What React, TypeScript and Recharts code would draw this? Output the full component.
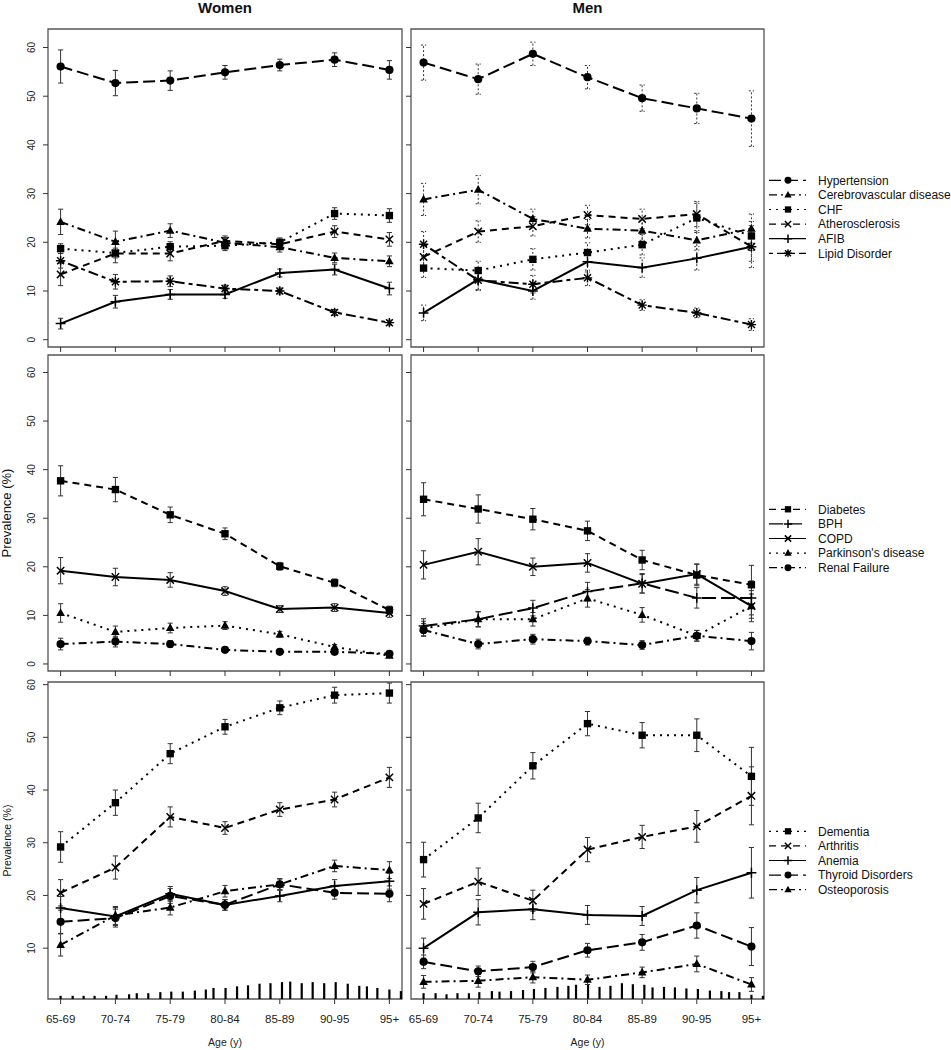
import React from "react";
import {
  ComposedChart,
  Line,
  Scatter,
  XAxis,
  YAxis,
  ErrorBar,
  Legend,
  ReferenceArea,
} from "recharts";

const ageGroups = ["65-69", "70-74", "75-79", "80-84", "85-89", "90-95", "95+"];

// cardiovascular - women
const wHypertension = [56.1, 52.7, 53.2, 54.9, 56.4, 57.5, 55.4];
const wHypertensionCI = [3.4, 2.6, 2.0, 1.4, 1.2, 1.4, 1.9];
const wCerebro = [24.2, 20.1, 22.4, 19.9, 19.0, 16.8, 16.1];
const wCerebroCI = [2.6, 2.2, 1.4, 1.1, 1.0, 1.0, 1.1];
const wCHF = [18.7, 17.8, 19.1, 19.3, 20.0, 25.9, 25.5];
const wCHFCI = [1.0, 1.0, 1.0, 1.0, 0.9, 1.2, 1.4];
const wAthero = [13.4, 17.7, 17.7, 20.3, 19.6, 22.2, 20.6];
const wAtheroCI = [2.3, 1.9, 1.5, 1.0, 0.9, 1.2, 1.4];
const wAFIB = [3.3, 7.8, 9.3, 9.3, 13.7, 14.4, 10.5];
const wAFIBCI = [1.1, 1.3, 1.0, 0.8, 0.8, 1.1, 1.3];
const wLipid = [16.2, 11.9, 12.0, 10.5, 10.0, 5.6, 3.5];
const wLipidCI = [1.5, 1.5, 1.1, 0.7, 0.6, 0.6, 0.5];

// cardiovascular - men
const mHypertension = [56.9, 53.5, 58.7, 53.9, 49.6, 47.5, 45.4];
const mHypertensionCI = [3.6, 3.1, 2.4, 2.4, 2.7, 3.1, 5.7];
const mCerebro = [28.8, 30.8, 24.8, 22.8, 22.4, 20.4, 22.8];
const mCerebroCI = [3.3, 2.9, 2.0, 1.9, 2.0, 2.0, 3.0];
const mCHF = [14.7, 14.2, 16.5, 17.9, 19.5, 25.0, 21.3];
const mCHFCI = [1.9, 1.9, 2.2, 2.0, 2.1, 3.0, 3.0];
const mAthero = [17.0, 22.2, 23.3, 25.6, 24.8, 25.8, 19.1];
const mAtheroCI = [2.3, 2.2, 2.0, 2.0, 2.0, 2.6, 3.0];
const mAFIB = [5.5, 12.4, 10.0, 16.0, 14.8, 16.7, 19.1];
const mAFIBCI = [1.6, 2.1, 1.7, 2.1, 2.0, 2.4, 4.3];
const mLipid = [19.6, 12.2, 11.4, 12.7, 7.1, 5.5, 3.1];
const mLipidCI = [2.6, 2.1, 1.8, 1.6, 1.1, 1.0, 1.2];

// other chronic - women
const wDiabetes = [37.7, 35.9, 30.7, 26.8, 20.1, 16.7, 11.1];
const wDiabetesCI = [3.1, 2.5, 1.6, 1.2, 0.8, 0.8, 0.8];
const wCOPD = [19.2, 17.9, 17.3, 15.0, 11.3, 11.6, 10.5];
const wCOPDCI = [2.7, 1.8, 1.5, 0.9, 0.7, 0.8, 0.9];
const wParkinson = [10.5, 6.6, 7.4, 7.9, 6.1, 3.5, 1.7];
const wParkinsonCI = [1.9, 1.2, 1.0, 0.8, 0.6, 0.5, 0.4];
const wRenal = [4.1, 4.6, 4.1, 2.9, 2.5, 2.5, 2.1];
const wRenalCI = [1.2, 1.1, 0.7, 0.5, 0.4, 0.4, 0.4];

// other chronic - men
const mDiabetes = [33.9, 31.9, 29.8, 27.4, 21.4, 18.3, 16.3];
const mDiabetesCI = [3.4, 2.9, 2.2, 2.0, 2.0, 2.2, 4.0];
const mBPH = [7.8, 9.2, 11.5, 14.9, 16.6, 13.6, 13.6];
const mBPHCI = [1.5, 1.6, 1.6, 1.9, 2.0, 2.1, 3.5];
const mCOPD = [20.4, 23.1, 20.0, 20.8, 16.5, 18.5, 11.9];
const mCOPDCI = [2.9, 2.7, 1.8, 1.9, 1.9, 2.1, 3.2];
const mParkinson = [7.3, 9.2, 9.2, 13.5, 10.1, 5.8, 11.9];
const mParkinsonCI = [1.5, 1.5, 1.4, 1.8, 1.5, 1.1, 2.5];
const mRenal = [7.0, 4.1, 5.1, 4.7, 3.9, 5.8, 4.7];
const mRenalCI = [1.3, 1.0, 1.0, 0.8, 0.9, 1.1, 1.8];

// dementia & co - women
const wDementia = [29.2, 37.6, 46.9, 52.0, 55.6, 58.0, 58.4];
const wDementiaCI = [2.9, 2.4, 1.9, 1.4, 1.3, 1.5, 1.9];
const wArthritis = [20.5, 25.3, 34.9, 32.8, 36.3, 38.2, 42.4];
const wArthritisCI = [2.5, 2.2, 1.9, 1.2, 1.3, 1.4, 1.9];
const wAnemia = [17.6, 16.0, 20.3, 18.2, 19.9, 21.8, 22.7];
const wAnemiaCI = [2.2, 1.7, 1.4, 1.0, 1.1, 1.2, 1.5];
const wThyroid = [15.0, 15.7, 19.9, 18.2, 22.1, 20.5, 20.3];
const wThyroidCI = [2.2, 1.7, 1.4, 1.0, 1.1, 1.2, 1.5];
const wOsteo = [10.6, 16.2, 17.7, 20.8, 22.1, 25.6, 24.8];
const wOsteoCI = [2.1, 1.7, 1.4, 1.1, 1.0, 1.1, 1.6];

// dementia & co - men
const mDementia = [26.8, 34.7, 44.6, 52.6, 50.4, 50.4, 42.6];
const mDementiaCI = [3.3, 2.8, 2.5, 2.3, 2.4, 3.1, 5.5];
const mArthritis = [18.4, 22.6, 19.0, 28.7, 31.1, 33.1, 38.9];
const mArthritisCI = [2.9, 2.6, 2.0, 2.3, 2.2, 3.0, 5.5];
const mAnemia = [10.0, 16.8, 17.4, 16.3, 16.1, 21.0, 24.3];
const mAnemiaCI = [1.9, 2.4, 2.0, 1.8, 1.8, 2.4, 4.8];
const mThyroid = [7.4, 5.6, 6.4, 9.6, 11.1, 14.3, 10.3];
const mThyroidCI = [1.3, 1.0, 1.1, 1.3, 1.5, 2.4, 3.6];
const mOsteo = [3.6, 3.8, 4.5, 4.0, 5.4, 7.0, 3.1];
const mOsteoCI = [1.2, 1.2, 1.1, 0.9, 1.0, 1.5, 1.3];

// age distribution rug along the bottom row (position on the age axis, height in %)
const rugAt = [
  0, 0.22, 0.42, 0.62, 0.83, 1.02, 1.25, 1.39, 1.6, 1.82, 2.02, 2.23, 2.45, 2.65, 2.79, 3.01,
  3.22, 3.42, 3.63, 3.83, 4.04, 4.19, 4.4, 4.6, 4.81, 5.02, 5.24, 5.45, 5.59, 5.78, 6.0, 6.21,
];
const rugWomen = [
  0.6, 0.6, 0.6, 0.6, 0.6, 0.8, 0.9, 1.1, 1.1, 1.3, 1.4, 1.4, 1.6, 1.8, 2.1, 2.1,
  2.4, 2.6, 2.9, 3.0, 3.2, 3.3, 3.0, 3.2, 3.0, 3.2, 2.9, 2.5, 2.4, 2.1, 1.8, 1.5,
];
const rugMen = [
  1.1, 1.1, 0.9, 1.1, 1.1, 1.3, 1.5, 1.4, 1.5, 1.7, 1.9, 2.1, 2.3, 2.5, 2.7, 2.8,
  2.3, 2.5, 3.0, 2.8, 2.7, 2.2, 2.3, 2.2, 2.0, 1.9, 1.6, 1.5, 1.3, 1.3, 0.8, 0.6,
];

const FONT = "'Liberation Sans', Arial, Helvetica, sans-serif";

type MarkKind = "circle" | "triangle" | "square" | "cross" | "plus" | "star";
type Series = { name: string; values: number[]; ci: number[] };

const looks: Record<string, { dash?: string; mark: MarkKind }> = {
  Hypertension: { dash: "12 5", mark: "circle" },
  "Cerebrovascular disease": { dash: "8 4 2 4", mark: "triangle" },
  CHF: { dash: "2 5", mark: "square" },
  Atherosclerosis: { dash: "7 5", mark: "cross" },
  AFIB: { mark: "plus" },
  "Lipid Disorder": { dash: "4 4 10 4", mark: "star" },
  Diabetes: { dash: "7 5", mark: "square" },
  BPH: { dash: "14 5", mark: "plus" },
  COPD: { mark: "cross" },
  "Parkinson's disease": { dash: "2 5", mark: "triangle" },
  "Renal Failure": { dash: "8 4 2 4", mark: "circle" },
  Dementia: { dash: "2 5", mark: "square" },
  Arthritis: { dash: "7 5", mark: "cross" },
  Anemia: { mark: "plus" },
  "Thyroid Disorders": { dash: "12 5", mark: "circle" },
  Osteoporosis: { dash: "8 4 2 4", mark: "triangle" },
};

const cardioWomen: Series[] = [
  { name: "Hypertension", values: wHypertension, ci: wHypertensionCI },
  { name: "Cerebrovascular disease", values: wCerebro, ci: wCerebroCI },
  { name: "CHF", values: wCHF, ci: wCHFCI },
  { name: "Atherosclerosis", values: wAthero, ci: wAtheroCI },
  { name: "AFIB", values: wAFIB, ci: wAFIBCI },
  { name: "Lipid Disorder", values: wLipid, ci: wLipidCI },
];
const cardioMen: Series[] = [
  { name: "Hypertension", values: mHypertension, ci: mHypertensionCI },
  { name: "Cerebrovascular disease", values: mCerebro, ci: mCerebroCI },
  { name: "CHF", values: mCHF, ci: mCHFCI },
  { name: "Atherosclerosis", values: mAthero, ci: mAtheroCI },
  { name: "AFIB", values: mAFIB, ci: mAFIBCI },
  { name: "Lipid Disorder", values: mLipid, ci: mLipidCI },
];
const chronicWomen: Series[] = [
  { name: "Diabetes", values: wDiabetes, ci: wDiabetesCI },
  { name: "COPD", values: wCOPD, ci: wCOPDCI },
  { name: "Parkinson's disease", values: wParkinson, ci: wParkinsonCI },
  { name: "Renal Failure", values: wRenal, ci: wRenalCI },
];
const chronicMen: Series[] = [
  { name: "Diabetes", values: mDiabetes, ci: mDiabetesCI },
  { name: "BPH", values: mBPH, ci: mBPHCI },
  { name: "COPD", values: mCOPD, ci: mCOPDCI },
  { name: "Parkinson's disease", values: mParkinson, ci: mParkinsonCI },
  { name: "Renal Failure", values: mRenal, ci: mRenalCI },
];
const otherWomen: Series[] = [
  { name: "Dementia", values: wDementia, ci: wDementiaCI },
  { name: "Arthritis", values: wArthritis, ci: wArthritisCI },
  { name: "Anemia", values: wAnemia, ci: wAnemiaCI },
  { name: "Thyroid Disorders", values: wThyroid, ci: wThyroidCI },
  { name: "Osteoporosis", values: wOsteo, ci: wOsteoCI },
];
const otherMen: Series[] = [
  { name: "Dementia", values: mDementia, ci: mDementiaCI },
  { name: "Arthritis", values: mArthritis, ci: mArthritisCI },
  { name: "Anemia", values: mAnemia, ci: mAnemiaCI },
  { name: "Thyroid Disorders", values: mThyroid, ci: mThyroidCI },
  { name: "Osteoporosis", values: mOsteo, ci: mOsteoCI },
];

function Mark({ cx, cy, kind, k = 1 }: { cx: number; cy: number; kind: MarkKind; k?: number }) {
  if (cx == null || cy == null || isNaN(cx) || isNaN(cy)) return <g />;
  const r = 4.1 * k;
  switch (kind) {
    case "circle":
      return <circle cx={cx} cy={cy} r={r} fill="#000" />;
    case "square":
      return <rect x={cx - r * 0.9} y={cy - r * 0.9} width={r * 1.8} height={r * 1.8} fill="#000" />;
    case "triangle":
      return (
        <path
          d={`M${cx} ${cy - r * 1.15}L${cx + r * 1.05} ${cy + r * 0.75}L${cx - r * 1.05} ${cy + r * 0.75}Z`}
          fill="#000"
        />
      );
    case "cross":
      return (
        <path
          d={`M${cx - r * 0.9} ${cy - r * 0.9}L${cx + r * 0.9} ${cy + r * 0.9}M${cx - r * 0.9} ${cy + r * 0.9}L${cx + r * 0.9} ${cy - r * 0.9}`}
          stroke="#000"
          strokeWidth={1.5}
        />
      );
    case "plus":
      return (
        <path
          d={`M${cx - r * 1.2} ${cy}L${cx + r * 1.2} ${cy}M${cx} ${cy - r * 1.2}L${cx} ${cy + r * 1.2}`}
          stroke="#000"
          strokeWidth={1.5}
        />
      );
    default:
      return (
        <path
          d={`M${cx - r * 0.85} ${cy - r * 0.85}L${cx + r * 0.85} ${cy + r * 0.85}M${cx - r * 0.85} ${cy + r * 0.85}L${cx + r * 0.85} ${cy - r * 0.85}M${cx - r * 1.15} ${cy}L${cx + r * 1.15} ${cy}M${cx} ${cy - r * 1.15}L${cx} ${cy + r * 1.15}`}
          stroke="#000"
          strokeWidth={1.4}
        />
      );
  }
}

function LegendBox({ series }: { series: Series[] }) {
  const row = 14.6;
  return (
    <svg width={185} height={series.length * row} style={{ display: "block", overflow: "visible" }}>
      {series.map((s, i) => {
        const cy = row / 2 + i * row;
        const lk = looks[s.name];
        return (
          <g key={s.name}>
            <line x1={3} x2={40} y1={cy} y2={cy} stroke="#000" strokeWidth={1.2} strokeDasharray={lk.dash} />
            <Mark cx={22} cy={cy} kind={lk.mark} k={0.85} />
            <text x={52} y={cy} dy="0.36em" fontSize={12} fontFamily={FONT} fill="#111">
              {s.name}
            </text>
          </g>
        );
      })}
    </svg>
  );
}

type PanelProps = {
  left: number;
  top: number;
  width: number;
  height: number;
  margin: { top: number; right: number; bottom: number; left: number };
  yWidth: number;
  xHeight: number;
  yDomain: [number, number];
  yTicks: number[];
  series: Series[];
  yLabels?: boolean;
  yTitle?: string;
  yTitleSize?: number;
  xLabels?: boolean;
  legendTop?: number;
  rug?: number[];
  ciDash?: string;
};

const xDomain: [number, number] = [-0.23, 6.23];

function Panel(p: PanelProps) {
  const rugData = p.rug
    ? rugAt.map((x, j) => ({ x, y: p.yDomain[0] + p.rug![j] / 2, e: p.rug![j] / 2 }))
    : [];
  return (
    <div style={{ position: "absolute", left: p.left, top: p.top }}>
      <ComposedChart width={p.width} height={p.height} margin={p.margin}>
        <XAxis
          type="number"
          dataKey="x"
          domain={xDomain}
          ticks={ageGroups.map((_, i) => i)}
          interval={0}
          allowDataOverflow
          height={p.xHeight}
          axisLine={false}
          tickSize={5}
          tickMargin={2}
          stroke="#333"
          tick={(t: any) =>
            p.xLabels ? (
              <text x={t.x} y={t.y + 17} textAnchor="middle" fontSize={11.5} fontFamily={FONT} fill="#222">
                {ageGroups[t.payload.value]}
              </text>
            ) : (
              <g />
            )
          }
          label={
            p.xLabels
              ? (lb: any) => (
                  <text
                    x={lb.viewBox.x + lb.viewBox.width / 2}
                    y={lb.viewBox.y + 47}
                    textAnchor="middle"
                    fontSize={10.5}
                    fontFamily={FONT}
                    fill="#222"
                  >
                    Age (y)
                  </text>
                )
              : undefined
          }
        />
        <YAxis
          type="number"
          domain={p.yDomain}
          ticks={p.yTicks}
          interval={0}
          allowDataOverflow
          width={p.yWidth}
          axisLine={false}
          tickSize={5}
          tickMargin={2}
          stroke="#333"
          tick={(t: any) =>
            p.yLabels ? (
              <text
                x={t.x - 5.5}
                y={t.y}
                transform={`rotate(-90 ${t.x - 5.5} ${t.y})`}
                textAnchor="middle"
                fontSize={10}
                fontFamily={FONT}
                fill="#222"
              >
                {t.payload.value}
              </text>
            ) : (
              <g />
            )
          }
          label={
            p.yTitle
              ? (lb: any) => {
                  const cx = lb.viewBox.x + 3;
                  const cy = lb.viewBox.y + lb.viewBox.height / 2;
                  return (
                    <text
                      x={cx}
                      y={cy}
                      transform={`rotate(-90 ${cx} ${cy})`}
                      textAnchor="middle"
                      fontSize={p.yTitleSize}
                      fontFamily={FONT}
                      fill="#111"
                    >
                      {p.yTitle}
                    </text>
                  );
                }
              : undefined
          }
        />
        <ReferenceArea
          x1={xDomain[0]}
          x2={xDomain[1]}
          y1={p.yDomain[0]}
          y2={p.yDomain[1]}
          fill="none"
          stroke="#555"
          strokeWidth={1.3}
        />
        {p.rug && (
          <Scatter data={rugData} dataKey="y" shape={() => <g />} isAnimationActive={false}>
            <ErrorBar dataKey="e" direction="y" width={0} stroke="#000" strokeWidth={2.2} />
          </Scatter>
        )}
        {p.series.map((s) => {
          const lk = looks[s.name];
          return (
            <Line
              key={s.name}
              data={s.values.map((v, i) => ({ x: i, y: v, e: s.ci[i] }))}
              dataKey="y"
              stroke="#000"
              strokeWidth={2}
              strokeDasharray={lk.dash}
              dot={(d: any) => <Mark key={`${s.name}-${d.index}`} cx={d.cx} cy={d.cy} kind={lk.mark} />}
              activeDot={false}
              isAnimationActive={false}
            >
              <ErrorBar
                dataKey="e"
                direction="y"
                width={2.6}
                stroke="#333"
                strokeWidth={1}
                strokeDasharray={p.ciDash}
              />
            </Line>
          );
        })}
        {p.legendTop !== undefined && (
          <Legend
            layout="horizontal"
            verticalAlign="middle"
            align="center"
            wrapperStyle={{ left: 363, top: p.legendTop, width: 185 }}
            content={() => <LegendBox series={p.series} />}
          />
        )}
      </ComposedChart>
    </div>
  );
}

const fullTicks = [0, 10, 20, 30, 40, 50, 60];
const bottomTicks = [10, 20, 30, 40, 50, 60];

export default function App() {
  const leftBox = { left: 0, width: 410, yWidth: 40 };
  const rightBox = { left: 403, width: 548, yWidth: 8 };
  return (
    <div
      style={{
        position: "absolute",
        left: 0,
        top: 0,
        width: 951,
        height: 1050,
        background: "#fff",
        fontFamily: FONT,
      }}
    >
      <svg width={951} height={24} style={{ position: "absolute", left: 0, top: 0 }}>
        <text x={225} y={12.5} textAnchor="middle" fontSize={15} fontWeight="bold" fontFamily={FONT} fill="#111">
          Women
        </text>
        <text x={587.5} y={12.5} textAnchor="middle" fontSize={15} fontWeight="bold" fontFamily={FONT} fill="#111">
          Men
        </text>
      </svg>

      <Panel
        {...leftBox}
        top={0}
        height={357}
        margin={{ top: 29, right: 8, bottom: 0, left: 8 }}
        xHeight={10}
        yDomain={[-1.5, 63.8]}
        yTicks={fullTicks}
        series={cardioWomen}
        yLabels
      />
      <Panel
        {...rightBox}
        top={0}
        height={357}
        margin={{ top: 29, right: 187, bottom: 0, left: 0 }}
        xHeight={10}
        yDomain={[-1.5, 63.8]}
        yTicks={fullTicks}
        series={cardioMen}
        legendTop={172.7}
        ciDash="2 2"
      />

      <Panel
        {...leftBox}
        top={340}
        height={341}
        margin={{ top: 15, right: 8, bottom: 0, left: 8 }}
        xHeight={10}
        yDomain={[-1.45, 63.6]}
        yTicks={fullTicks}
        series={chronicWomen}
        yLabels
        yTitle="Prevalence (%)"
        yTitleSize={13}
      />
      <Panel
        {...rightBox}
        top={340}
        height={341}
        margin={{ top: 15, right: 187, bottom: 0, left: 0 }}
        xHeight={10}
        yDomain={[-1.45, 63.6]}
        yTicks={fullTicks}
        series={chronicMen}
        legendTop={161.7}
      />

      <Panel
        {...leftBox}
        top={670}
        height={379}
        margin={{ top: 12, right: 8, bottom: 0, left: 8 }}
        xHeight={50}
        yDomain={[0.35, 60.5]}
        yTicks={bottomTicks}
        series={otherWomen}
        yLabels
        yTitle="Prevalence (%)"
        yTitleSize={10.5}
        xLabels
        rug={rugWomen}
      />
      <Panel
        {...rightBox}
        top={670}
        height={379}
        margin={{ top: 12, right: 187, bottom: 0, left: 0 }}
        xHeight={50}
        yDomain={[0.35, 60.5]}
        yTicks={bottomTicks}
        series={otherMen}
        xLabels
        legendTop={154.4}
        rug={rugMen}
      />
    </div>
  );
}
